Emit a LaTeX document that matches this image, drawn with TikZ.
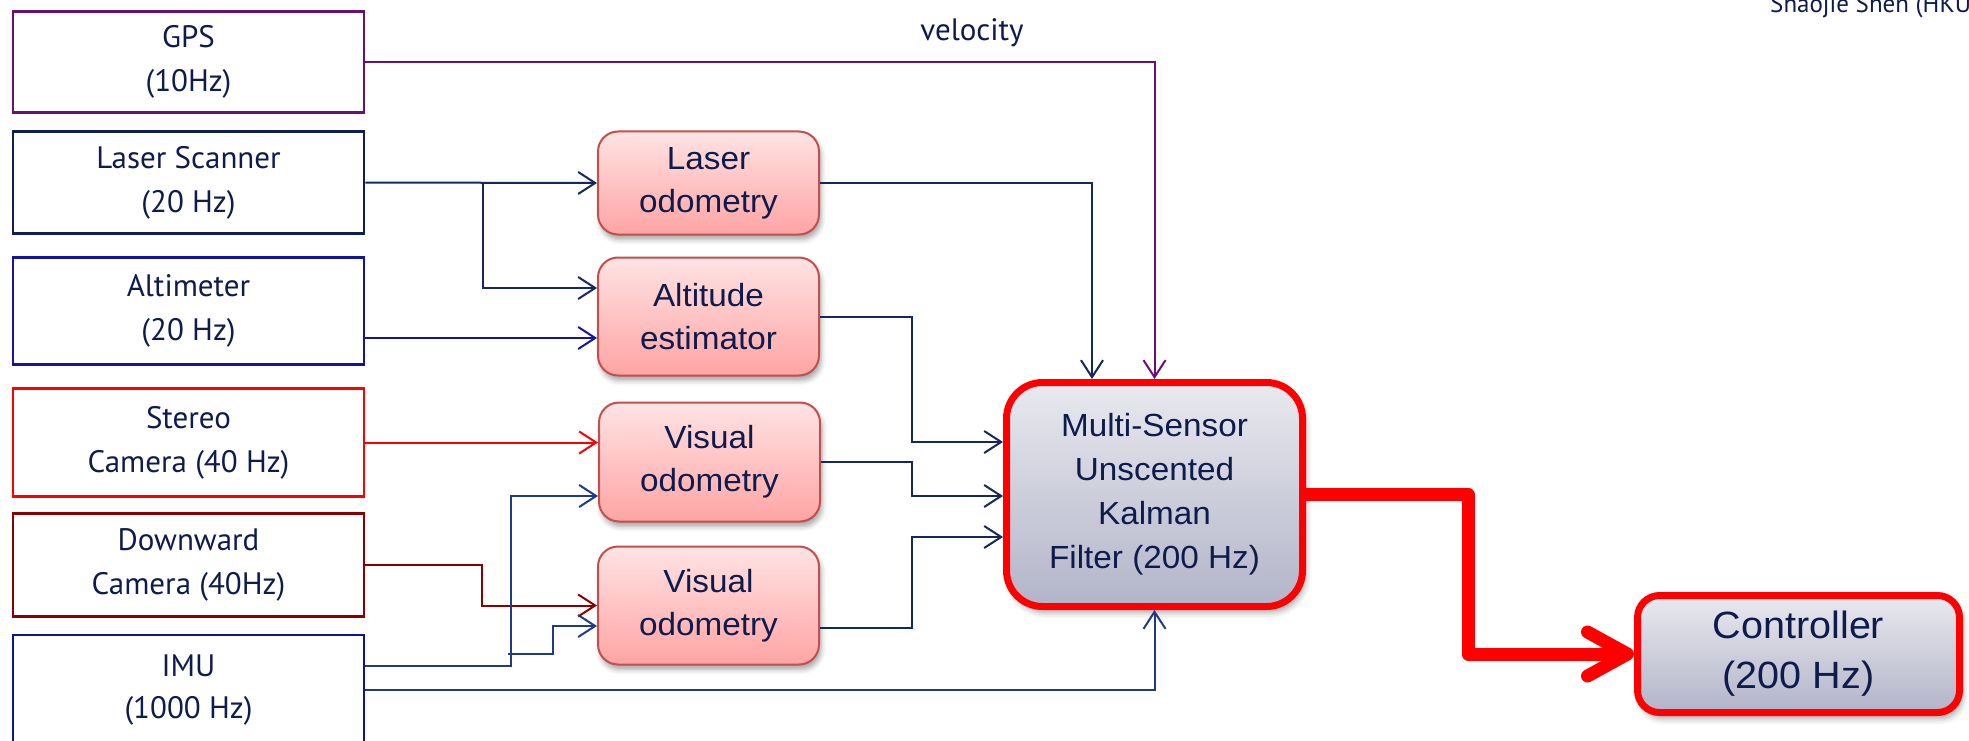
\documentclass[tikz,border=0pt]{standalone}
\usepackage{fontspec}
\setmainfont{PT Sans}
\newfontfamily\arialf[FakeStretch=1.04]{Liberation Sans}
\usetikzlibrary{arrows.meta,shadows.blur}
\definecolor{txt}{HTML}{0E1B4D}
\definecolor{gpsc}{HTML}{6A0F73}
\definecolor{lsc}{HTML}{0F1F55}
\definecolor{altc}{HTML}{1414A0}
\definecolor{dwc}{HTML}{8B0000}
\definecolor{imuc}{HTML}{0A14A0}
\definecolor{navy}{HTML}{14285E}
\definecolor{imuline}{HTML}{1F3A86}
\definecolor{pinkborder}{HTML}{C0504D}
\definecolor{pinktop}{HTML}{FFE3E3}
\definecolor{pinkbot}{HTML}{FFA4A4}
\definecolor{greytop}{HTML}{E9E9EF}
\definecolor{greybot}{HTML}{B2B4C8}
\begin{document}
\begin{tikzpicture}[x=1pt,y=-1pt,
  sensor/.style={draw, line width=2.5pt, minimum width=351pt, inner sep=0pt,
    align=center, text=txt, font=\fontsize{31}{44}\selectfont},
  pinkbox/.style={draw=pinkborder, line width=2pt, rounded corners=20pt,
    top color=pinktop, bottom color=pinkbot, minimum width=221pt, inner sep=0pt,
    align=center, text=txt, font=\arialf\fontsize{32}{43}\selectfont,
    blur shadow={shadow xshift=2pt, shadow yshift=-5pt, shadow blur radius=5pt, shadow opacity=35}},
  greybox/.style={draw=red, line width=7pt, top color=greytop, bottom color=greybot,
    inner sep=0pt, align=center, text=txt,
    blur shadow={shadow xshift=3pt, shadow yshift=-6pt, shadow blur radius=6pt, shadow opacity=35}},
  conn/.style={line width=2pt, draw=navy, -{Straight Barb[length=17pt,width=22pt]}},
  bigarrow/.style={line width=13pt, draw=red, line join=round,
    -{Straight Barb[length=40pt,width=44pt,round]}}
]
\useasboundingbox (0,0) rectangle (1969,741);

% level coordinates
\coordinate (y288) at (0,288);
\coordinate (y338) at (0,338);
\coordinate (y442) at (0,442);
\coordinate (y496) at (0,496);
\coordinate (y537) at (0,537);
\coordinate (y626) at (0,626);
\coordinate (y628) at (0,628);
\coordinate (y654) at (0,654);
\coordinate (y666) at (0,666);
\coordinate (x482) at (482,0);
\coordinate (x483) at (483,0);
\coordinate (x508) at (508,0);
\coordinate (x511) at (511,0);
\coordinate (x553) at (553,0);
\coordinate (x912) at (912,0);
\coordinate (x1092) at (1092,0);
\coordinate (x1468) at (1468,0);

% sensors
\node[sensor, draw=gpsc, minimum height=101pt] (gps) at (188.5,62) {GPS\\(10Hz)};
\node[sensor, draw=lsc, minimum height=102pt] (ls) at (188.5,182.5) {Laser Scanner\\(20 Hz)};
\node[sensor, draw=altc, minimum height=107pt] (alt) at (188.5,311) {Altimeter\\(20 Hz)};
\node[sensor, draw=red, minimum height=108pt] (st) at (188.5,442.5) {Stereo\\Camera (40 Hz)};
\node[sensor, draw=dwc, minimum height=103pt] (dw) at (188.5,565) {Downward\\Camera (40Hz)};
\node[sensor, draw=imuc, minimum height=110pt] (imu) at (188.5,690) {IMU\\[-2pt](1000 Hz)};

% processing boxes
\node[pinkbox, minimum height=103pt] (lo) at (708.5,183) {Laser\\odometry};
\node[pinkbox, minimum height=118pt] (ae) at (708.5,316.5) {Altitude\\estimator};
\node[pinkbox, minimum height=119pt] (vo1) at (709.5,462) {Visual\\odometry};
\node[pinkbox, minimum height=118pt] (vo2) at (708.5,605.5) {Visual\\odometry};

% filter and controller
\node[greybox, rounded corners=36pt, minimum width=296pt, minimum height=224pt,
  font=\arialf\fontsize{32}{44}\selectfont] (kf) at (1154.5,494.5)
  {Multi-Sensor\\Unscented\\Kalman\\Filter (200 Hz)};
\node[greybox, rounded corners=22pt, minimum width=322pt, minimum height=117pt,
  font=\arialf\fontsize{38}{50}\selectfont] (ctrl) at (1798.5,654)
  {Controller\\(200 Hz)};

% labels
\node[text=txt, font=\fontsize{31}{31}\selectfont, inner sep=0pt] (vel) at (972,33) {velocity};
\node[anchor=base west, text=txt, font=\fontsize{25}{25}\selectfont, inner sep=0pt] (auth) at (1770,13) {Shaojie Shen (HKU};

% sensor connectors
\draw[conn, draw=gpsc] (gps.east) -| (kf.north);
\draw[conn] (ls.east) -- (lo.west);
\coordinate (lsb) at (483,182.5);
\draw[conn] (lsb) |- (ae.west |- y288);
\draw[conn, draw=altc] (alt.east |- y338) -- (ae.west |- y338);
\draw[conn, draw=red] (st.east) -- (vo1.west |- st.east);
\draw[conn, draw=dwc] (dw.east) -- (dw.east -| x482) |- (vo2.west);
\draw[conn, draw=imuline] (imu.east |- y666) -- (x511 |- y666) |- (vo1.west |- y496);
\draw[conn, draw=imuline] (x508 |- y654) -| (x553 |- y626) -- (vo2.west |- y626);
\draw[conn, draw=imuline] (imu.east) -| (kf.south);

% processing outputs
\draw[conn] (lo.east) -| (x1092 |- kf.north);
\draw[conn] (ae.east) -- (ae.east -| x912) |- (kf.west |- y442);
\draw[conn] (vo1.east) -- (vo1.east -| x912) |- (kf.west |- y496);
\draw[conn] (vo2.east |- y628) -- (x912 |- y628) |- (kf.west |- y537);

% output to controller
\draw[bigarrow] (kf.east) -- (kf.east -| x1468) |- (ctrl.west);
\end{tikzpicture}
\end{document}
